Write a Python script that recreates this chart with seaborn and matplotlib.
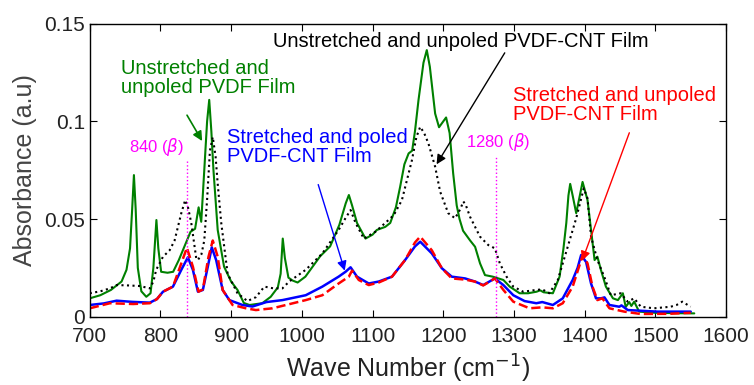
import numpy as np
import pandas as pd
import matplotlib
matplotlib.use("Agg")
import matplotlib.pyplot as plt
import seaborn as sns

# ---- data (wave number cm^-1, absorbance) ----
green_x = [700, 715, 730, 745, 752, 757, 760, 762.5, 765, 768, 773, 780, 786, 790, 794.3, 797, 801, 810, 818, 826,
           834, 842.6, 849, 854, 857.7, 862, 866, 869, 872, 875, 881, 890, 900, 909, 918, 926, 944, 956, 966, 970,
           973, 976, 981, 987, 994, 1005, 1012, 1026, 1040, 1053, 1062, 1066.5, 1071, 1078, 1090, 1100, 1106, 1118,
           1125, 1133, 1139, 1145, 1151, 1156, 1160, 1165, 1172, 1176.7, 1181, 1188.5, 1194, 1200, 1204, 1209, 1214,
           1219, 1223, 1228, 1238, 1245, 1252, 1259, 1270, 1285, 1294, 1308, 1320, 1332, 1337, 1342, 1355, 1364.5,
           1370, 1374, 1377, 1379.5, 1383, 1388, 1392, 1397, 1404, 1409, 1414, 1418, 1423, 1430, 1440, 1447, 1454,
           1458, 1463, 1466, 1470, 1477, 1500, 1530, 1555]
green_y = [0.0094, 0.011, 0.0137, 0.018, 0.024, 0.035, 0.055, 0.0725, 0.055, 0.025, 0.013, 0.0102, 0.012, 0.025,
           0.0495, 0.035, 0.023, 0.0225, 0.023, 0.029, 0.036, 0.0435, 0.045, 0.056, 0.0486, 0.075, 0.100, 0.111,
           0.095, 0.075, 0.0444, 0.0256, 0.018, 0.0137, 0.007, 0.006, 0.0069, 0.0102, 0.015, 0.022, 0.040, 0.030,
           0.020, 0.0185, 0.0175, 0.0205, 0.024, 0.031, 0.036, 0.047, 0.058, 0.0623, 0.057, 0.048, 0.040, 0.042,
           0.0444, 0.046, 0.048, 0.056, 0.0665, 0.078, 0.0836, 0.085, 0.095, 0.111, 0.130, 0.1365, 0.128, 0.104,
           0.097, 0.100, 0.102, 0.094, 0.0734, 0.057, 0.050, 0.044, 0.039, 0.0358, 0.0273, 0.0213, 0.0205, 0.0188,
           0.0154, 0.012, 0.012, 0.0128, 0.0135, 0.0125, 0.012, 0.0205, 0.035, 0.048, 0.062, 0.068, 0.062, 0.053,
           0.060, 0.069, 0.0597, 0.0444, 0.029, 0.0307, 0.0239, 0.0154, 0.0094, 0.0085, 0.012, 0.005, 0.0075,
           0.0055, 0.0077, 0.0026, 0.002, 0.0018, 0.0017]

black_x = [700, 715, 728.6, 738, 755, 771, 785, 790, 794, 803.6, 813, 820, 829.5, 835, 839, 843.6, 850.6, 853, 858,
           862, 866, 870, 874, 878, 881, 886, 895, 909, 923, 935, 947, 960, 972.5, 982, 1005.5, 1029, 1052, 1061,
           1068.9, 1076, 1087.6, 1104, 1118, 1130, 1141.5, 1155.6, 1162, 1167.4, 1173, 1179, 1188.5, 1195.6, 1207,
           1216.7, 1224, 1228.4, 1232, 1237.8, 1251.9, 1263.6, 1273, 1280, 1289.5, 1299, 1313, 1331.6, 1340, 1350,
           1362, 1376, 1388, 1398.7, 1404, 1409, 1418, 1427.6, 1437, 1451, 1460.7, 1470, 1479.4, 1498, 1521.6, 1530,
           1538, 1549.8]
black_y = [0.012, 0.013, 0.0145, 0.0162, 0.016, 0.0157, 0.0145, 0.018, 0.024, 0.0307, 0.034, 0.039, 0.053, 0.0597,
           0.056, 0.048, 0.030, 0.029, 0.032, 0.039, 0.060, 0.085, 0.092, 0.082, 0.068, 0.048, 0.022, 0.012, 0.008,
           0.010, 0.0154, 0.0145, 0.0145, 0.018, 0.024, 0.0324, 0.0444, 0.050, 0.0546, 0.048, 0.040, 0.0435, 0.048,
           0.052, 0.0597, 0.080, 0.092, 0.0972, 0.094, 0.0887, 0.0768, 0.064, 0.053, 0.0504, 0.055, 0.059, 0.057,
           0.0512, 0.041, 0.0367, 0.035, 0.0273, 0.0205, 0.0154, 0.0128, 0.0137, 0.014, 0.012, 0.0188, 0.0358,
           0.0504, 0.0657, 0.0606, 0.041, 0.029, 0.0205, 0.011, 0.012, 0.0077, 0.0094, 0.0051, 0.0043, 0.0051,
           0.006, 0.0077, 0.0051]

blue_x = [700, 720, 738, 760, 785, 795, 803.6, 817.7, 829.5, 838.8, 845.9, 853, 860, 867, 872.6, 878.8, 888, 897.5,
          916, 930, 950, 972.6, 1005.5, 1029, 1052, 1061.8, 1068.9, 1078, 1094.6, 1108.7, 1127.5, 1146, 1160, 1167.4,
          1183.8, 1198, 1212, 1230.8, 1244.8, 1256.5, 1273, 1285, 1299, 1315, 1331.6, 1340, 1355, 1369, 1383, 1390,
          1395, 1402, 1409, 1416, 1423, 1428, 1435, 1449, 1452, 1461, 1503, 1550]
blue_y = [0.006, 0.0068, 0.0082, 0.0076, 0.0072, 0.009, 0.0128, 0.0154, 0.024, 0.0304, 0.024, 0.0128, 0.0137,
          0.0256, 0.0355, 0.029, 0.0137, 0.0085, 0.006, 0.0052, 0.0075, 0.0085, 0.011, 0.0154, 0.0205, 0.023,
          0.0253, 0.0205, 0.017, 0.018, 0.0205, 0.029, 0.036, 0.0384, 0.0324, 0.0248, 0.0205, 0.0196, 0.018,
          0.0162, 0.0196, 0.0162, 0.011, 0.008, 0.0069, 0.0075, 0.006, 0.0094, 0.0188, 0.025, 0.0316, 0.028,
          0.017, 0.0094, 0.0094, 0.0099, 0.006, 0.0051, 0.0058, 0.0034, 0.0026, 0.0026]

red_x = [700, 728.6, 761.4, 785, 795, 803.6, 817.7, 829.5, 837.4, 845.9, 853.9, 860, 868, 874, 881, 888, 902, 921,
         935, 958.5, 1005.5, 1029, 1052, 1066.5, 1071, 1080.5, 1094.6, 1108.7, 1127.5, 1146, 1160, 1167.4, 1183.8,
         1198, 1212, 1230.8, 1244.8, 1256.5, 1273, 1285, 1299, 1322, 1340, 1355, 1369, 1383, 1390.6, 1397.3, 1404,
         1411, 1418, 1425, 1435, 1456, 1479, 1520, 1550]
red_y = [0.0043, 0.0069, 0.0065, 0.0069, 0.009, 0.0128, 0.0154, 0.0273, 0.0353, 0.0256, 0.0128, 0.014, 0.0307,
         0.039, 0.0307, 0.0137, 0.006, 0.0043, 0.0034, 0.0043, 0.0085, 0.011, 0.017, 0.0205, 0.0236, 0.0188,
         0.0162, 0.0175, 0.0205, 0.029, 0.038, 0.041, 0.034, 0.0248, 0.0196, 0.019, 0.018, 0.016, 0.0196, 0.0137,
         0.0077, 0.0043, 0.0048, 0.0043, 0.0069, 0.0154, 0.024, 0.0316, 0.0273, 0.0154, 0.0085, 0.0094, 0.0043,
         0.0026, 0.0014, 0.0015, 0.002]

beta_peaks = [837, 1274]
beta_labels = [r"840 ($\beta$)", r"1280 ($\beta$)"]
x_ticks = [700, 800, 900, 1000, 1100, 1200, 1300, 1400, 1500, 1600]
y_ticks = [0, 0.05, 0.1, 0.15]
y_ticklabels = ["0", "0.05", "0.1", "0.15"]

# ---- style ----
sns.set_style("ticks")
plt.rcParams["font.family"] = ["Liberation Sans", "DejaVu Sans"]
plt.rcParams["mathtext.fontset"] = "dejavusans"

fig = plt.figure(figsize=(7.54, 3.85), dpi=100)
ax = fig.add_axes([0.119, 0.1774, 0.844, 0.761])

GREEN = "#008000"
series = [
    (green_x, green_y, GREEN, "-", 1.5),
    (black_x, black_y, "black", ":", 1.5),
    (blue_x, blue_y, "blue", "-", 1.8),
    (red_x, red_y, "red", "--", 1.8),
]
for xs, ys, c, ls, lw in series:
    df = pd.DataFrame({"wn": xs, "abs": ys})
    sns.lineplot(data=df, x="wn", y="abs", ax=ax, color=c, linestyle=ls, linewidth=lw, sort=False)

# vertical beta markers
ax.vlines(beta_peaks[0], 0, 0.0797, colors="magenta", linestyles=":", linewidth=1)
ax.vlines(beta_peaks[1], 0, 0.082, colors="magenta", linestyles=":", linewidth=1)
ax.text(794, 0.087, beta_labels[0], color="magenta", fontsize=12, ha="center", va="center")
ax.text(1277, 0.0896, beta_labels[1], color="magenta", fontsize=12, ha="center", va="center")

fs = 14.5
ls_txt = 1.0
# annotations
ax.text(743.7, 0.1222, "Unstretched and\nunpoled PVDF Film", color=GREEN, fontsize=fs, ha="left", va="center",
        linespacing=ls_txt)
ax.annotate("", xy=(861, 0.0887), xytext=(835.6, 0.1044),
            arrowprops=dict(arrowstyle="-|>", color=GREEN, lw=1.2, mutation_scale=14))

ax.text(958.6, 0.1407, "Unstretched and unpoled PVDF-CNT Film", color="black", fontsize=fs, ha="left",
        va="center")
ax.annotate("", xy=(1188.5, 0.0768), xytext=(1289, 0.1363),
            arrowprops=dict(arrowstyle="-|>", color="black", lw=1.0, mutation_scale=14))

ax.text(894.3, 0.087, "Stretched and poled\nPVDF-CNT Film", color="blue", fontsize=fs, ha="left", va="center",
        linespacing=ls_txt)
ax.annotate("", xy=(1061.8, 0.0222), xytext=(1022, 0.069),
            arrowprops=dict(arrowstyle="-|>", color="blue", lw=1.0, mutation_scale=14))

ax.text(1298.8, 0.1083, "Stretched and unpoled\nPVDF-CNT Film", color="red", fontsize=fs, ha="left",
        va="center", linespacing=ls_txt)
ax.annotate("", xy=(1395, 0.0273), xytext=(1464.5, 0.0955),
            arrowprops=dict(arrowstyle="-|>", color="red", lw=1.0, mutation_scale=14))

# axes
ax.set_xlim(700, 1600)
ax.set_ylim(0, 0.15)
ax.set_xticks(x_ticks)
ax.set_yticks(y_ticks)
ax.set_yticklabels(y_ticklabels)
ax.tick_params(direction="in", top=True, right=True, length=5, width=0.8, labelsize=15, colors="black",
               labelcolor="#222222")
ax.tick_params(axis="x", pad=7.5)
for s in ax.spines.values():
    s.set_visible(True)
    s.set_color("black")
    s.set_linewidth(1.0)
ax.set_xlabel("Wave Number (cm$^{-1}$)", fontsize=18, color="#222222", labelpad=5)
ax.set_ylabel("Absorbance (a.u)", fontsize=18, color="#444444", labelpad=5)

fig.savefig("out.png", dpi=100)
